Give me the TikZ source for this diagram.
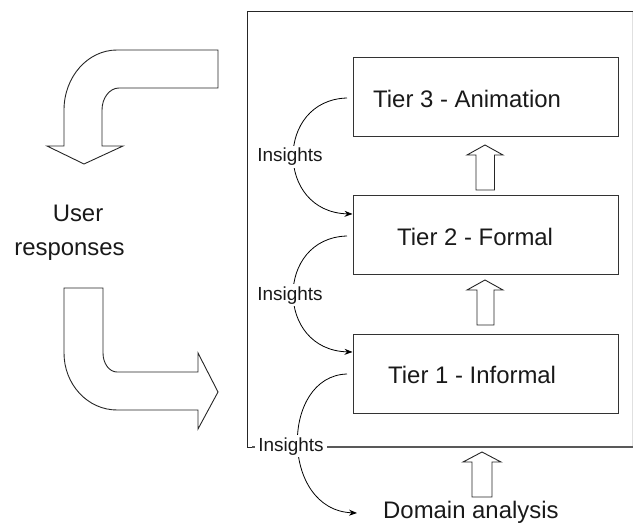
\documentclass[tikz,border=0pt]{standalone}
\usepackage{fontspec}
\setmainfont{Liberation Sans}
\usetikzlibrary{arrows.meta}
\begin{document}
\begin{tikzpicture}[x=1bp,y=-1bp,
  tierbox/.style={draw=black!80,line width=1bp,minimum width=265bp,minimum height=79bp,inner sep=0pt},
  tiertext/.style={font=\fontsize{24}{28}\selectfont,text=black!90,inner sep=0pt,anchor=base west},
  bigtext/.style={font=\fontsize{24}{28}\selectfont,text=black!90,inner sep=0pt},
  instext/.style={font=\fontsize{19}{22}\selectfont,text=black!90,fill=white,inner xsep=3bp,inner ysep=2bp,anchor=base},
  blockarrow/.style={draw=black!85,line width=0.9bp,fill=white,line join=miter},
  insarrow/.style={draw=black,line width=0.8bp,-{Stealth[length=8bp,width=6bp]}},
  frameline/.style={draw=black!85,line width=1bp},
]
\useasboundingbox (0,0) rectangle (633,528);

% frame
\draw[frameline] (633,12) -- (247,12) -- (247,447) -- (633,447);
\draw[black!12,line width=0.8bp] (632.5,12) -- (632.5,447);
\draw[black!65,line width=1.4bp] (252,447) -- (633,447);

% tier boxes
\node[tierbox] (t3) at (485.5,97.5) {};
\node[tierbox] (t2) at (485.5,235) {};
\node[tierbox] (t1) at (485.5,373.5) {};
\node[tiertext] (t3t) at (373,108) {Tier 3 - Animation};
\node[tiertext] (t2t) at (397,246) {Tier 2 - Formal};
\node[tiertext] (t1t) at (388,383) {Tier 1 - Informal};

% block arrows between tiers
\draw[blockarrow] (476,190) -- (476,155) -- (467,155) -- (485,145) -- (503,155) -- (494.5,155) -- (494.5,190) -- cycle;
\draw[blockarrow] (477,325) -- (477,290) -- (467,290) -- (485,280) -- (503,290) -- (494,290) -- (494,325) -- cycle;
\draw[blockarrow] (472,497) -- (472,462) -- (463,462) -- (482,452) -- (501,462) -- (492,462) -- (492,497) -- cycle;

% domain analysis
\node[tiertext] (dom) at (383,518) {Domain analysis};

% insight arrows
\coordinate (s3) at (347,98);
\coordinate (s2) at (347,236);
\coordinate (s1) at (347,374);
\coordinate (e2) at (t2.west |- 0,214);
\coordinate (e1) at (t1.west |- 0,352);
\coordinate (e0) at (357,513);
\draw[insarrow] (s3) .. controls (275,100) and (275,212) .. (e2);
\draw[insarrow] (s2) .. controls (275,238) and (275,350) .. (e1);
\draw[insarrow] (s1) .. controls (280,376) and (280,510) .. (e0);
\node[instext] (i3) at (290,162) {Insights};
\node[instext] (i2) at (290,300) {Insights};
\node[instext] (i1) at (291,451) {Insights};

% user responses
\node[bigtext,anchor=base] (u1) at (78,222) {User};
\node[bigtext,anchor=base] (u2) at (69.5,255) {responses};

% upper curved block arrow
\draw[blockarrow] (117,50) -- (218,50) -- (218,88) -- (119,88)
  .. controls (109.6,88) and (102,97.9) .. (102,110)
  -- (102,146) -- (123,146) -- (84,164) -- (47,146) -- (64,146) -- (64,110)
  .. controls (64,76.9) and (87.7,50) .. (117,50) -- cycle;

% lower curved block arrow
\draw[blockarrow] (64,288) -- (103,288) -- (103,353)
  .. controls (103,363.5) and (109.3,372) .. (117,372)
  -- (198,372) -- (198,353) -- (218,392) -- (198,429) -- (198,410) -- (117,410)
  .. controls (87.7,410) and (64,384.5) .. (64,353) -- cycle;
\end{tikzpicture}
\end{document}
